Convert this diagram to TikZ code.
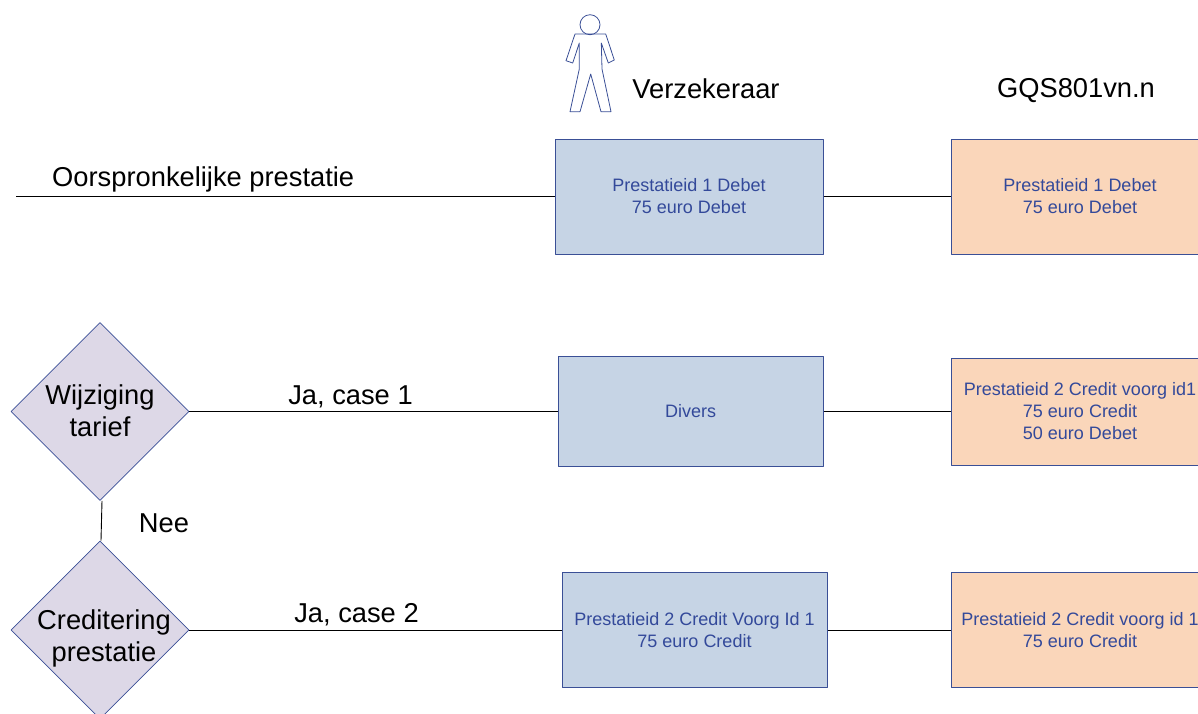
\documentclass[tikz,border=0pt]{standalone}
\usepackage{fontspec}
\setmainfont{Liberation Sans}
\usetikzlibrary{shapes.geometric}
\definecolor{lijnblauw}{HTML}{3A4F96}
\definecolor{tekstblauw}{HTML}{33499A}
\definecolor{vakblauw}{HTML}{C6D4E5}
\definecolor{vakoranje}{HTML}{FAD6BA}
\definecolor{vaklila}{HTML}{DDD8E7}
\tikzset{
	vak/.style={draw=lijnblauw,line width=1pt,align=center,text=tekstblauw,font=\fontsize{18}{22}\selectfont},
	verzekeraar/.style={vak,fill=vakblauw},
	gqs/.style={vak,fill=vakoranje},
	keuze/.style={diamond,aspect=1,draw=lijnblauw,line width=.8pt,fill=vaklila,inner sep=0pt,minimum width=178pt,minimum height=178pt},
	keuzetekst/.style={align=center,font=\fontsize{27.3}{32}\selectfont},
	kop/.style={font=\fontsize{27.3}{32}\selectfont},
	lijn/.style={line width=.9pt,black}
}
\begin{document}
\begin{tikzpicture}[x=1pt,y=-1pt,line join=round]
	%% afmetingen van de plaat
	\def \xmax{1198}
	\def \ymax{713}
	\useasboundingbox (0,0) rectangle (\xmax,\ymax);
	\clip (0,0) rectangle (\xmax,\ymax);
	%% poppetje
	\draw[lijnblauw,line width=.8pt] (590,24.7) circle (10);
	\draw[lijnblauw,line width=.8pt] (575,34)--(605.7,34)--(614.3,60)--(608.3,63)--(601.3,43)--(602,69)--(611,111.7)--(601,111.7)--(590.7,74)--(580,111.7)--(570,111.7)--(579.3,69)--(579.3,43)--(572.7,63)--(566,60.7)--cycle;
	%% koppen
	\node[kop] (verzekeraar) at (706,89) {Verzekeraar};
	\node[kop] (gqs) at (1076,91) {GQS801vn.n};
	\node[kop,anchor=west] (oorspronkelijk) at (48.7,179) {Oorspronkelijke prestatie};
	%% vakken
	\node[verzekeraar,minimum width=268pt,minimum height=115pt] (v1) at (689,196.5) {Prestatieid 1 Debet\\75 euro Debet};
	\node[verzekeraar,minimum width=265pt,minimum height=110pt] (v2) at (690.5,411.5) {Divers};
	\node[verzekeraar,minimum width=265pt,minimum height=115pt] (v3) at (694.5,630) {Prestatieid 2 Credit Voorg Id 1\\75 euro Credit};
	\node[gqs,minimum width=258pt,minimum height=115pt] (g1) at (1080,196.5) {Prestatieid 1 Debet\\75 euro Debet};
	\node[gqs,minimum width=258pt,minimum height=107pt] (g2) at (1080,411.5) {Prestatieid 2 Credit voorg id1\\75 euro Credit\\50 euro Debet};
	\node[gqs,minimum width=258pt,minimum height=115pt] (g3) at (1080,630) {Prestatieid 2 Credit voorg id 1\\75 euro Credit};
	%% keuzes
	\node[keuze,label={[keuzetekst,yshift=1pt]center:Wijziging\\tarief}] (wijziging) at (100,411.5) {};
	\node[keuze,label={[keuzetekst,xshift=4pt,yshift=-8pt]center:Creditering\\prestatie}] (creditering) at (100,630) {};
	%% lijnen
	\coordinate (begin) at (16,196.5);
	\draw[lijn] (begin)--(v1);
	\draw[lijn] (v1)--(g1);
	\draw[lijn] (wijziging)--(v2);
	\draw[lijn] (v2)--(g2);
	\draw[lijn] (creditering)--(v3);
	\draw[lijn] (v3)--(g3);
	\draw[lijn] ([xshift=2pt]wijziging.south)--([xshift=1pt]creditering.north);
	%% teksten bij de lijnen
	\node[kop] (ja1) at (350.5,397) {Ja, case 1};
	\node[kop] (ja2) at (356.5,615) {Ja, case 2};
	\node[kop] (nee) at (164,523) {Nee};
\end{tikzpicture}
\end{document}
